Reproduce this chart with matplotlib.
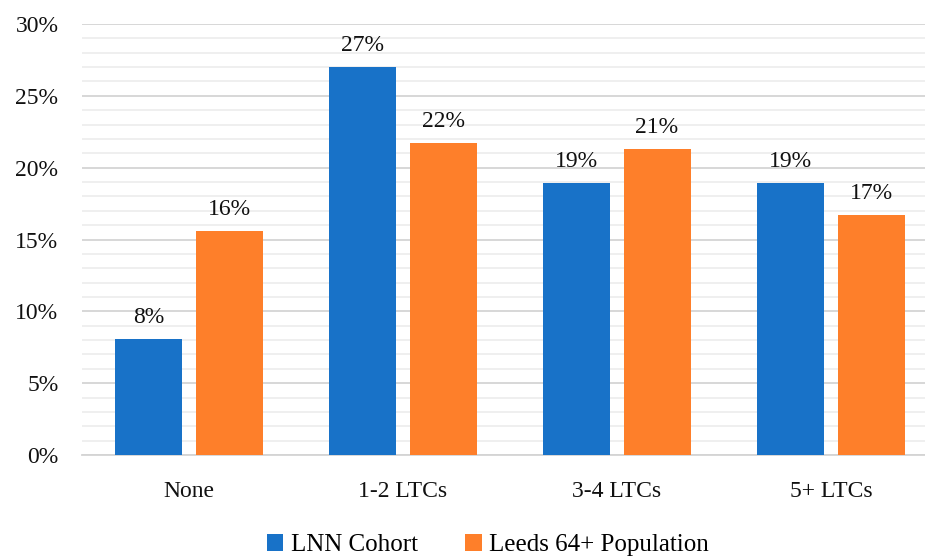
import numpy as np
import matplotlib.pyplot as plt
from matplotlib.ticker import MultipleLocator, FuncFormatter

plt.rcParams['font.family'] = ['Liberation Serif', 'DejaVu Serif']

categories = ['None', '1-2 LTCs', '3-4 LTCs', '5+ LTCs']
lnn_cohort = [8.1, 27.0, 18.9, 18.9]
leeds_64 = [15.6, 21.7, 21.3, 16.7]
series_names = ['LNN Cohort', 'Leeds 64+ Population']

blue = '#1872C8'
orange = '#FE7F2A'

fig = plt.figure(figsize=(9.25, 5.57), dpi=100)
ax = fig.add_axes([82 / 925, 102 / 557, 856 / 925, 431 / 557])

x = np.arange(len(categories))
w = 0.313
off = 0.187
b1 = ax.bar(x - off, lnn_cohort, w, color=blue, label=series_names[0], zorder=3)
b2 = ax.bar(x + off, leeds_64, w, color=orange, label=series_names[1], zorder=3)

for bars, vals in ((b1, lnn_cohort), (b2, leeds_64)):
    for rect, v in zip(bars, vals):
        ax.annotate(f'{round(v)}%', (rect.get_x() + rect.get_width() / 2, v),
                    xytext=(0, 8), textcoords='offset points',
                    ha='center', va='bottom', fontsize=17, color='#111111')

ax.set_xlim(-0.5, 3.5)
ax.set_ylim(0, 30)
ax.yaxis.set_major_locator(MultipleLocator(5))
ax.yaxis.set_minor_locator(MultipleLocator(1))
ax.yaxis.set_major_formatter(FuncFormatter(lambda v, p: f'{v:.0f}%'))
ax.grid(axis='y', which='major', color='#D4D4D4', linewidth=1.3, zorder=0)
ax.grid(axis='y', which='minor', color='#EEEEEE', linewidth=1.3, zorder=0)
ax.set_axisbelow(True)

for s in ('top', 'right', 'left'):
    ax.spines[s].set_visible(False)
ax.spines['bottom'].set_color('#D4D4D4')
ax.spines['bottom'].set_linewidth(1.3)

ax.set_xticks(x)
ax.set_xticklabels(categories)
ax.tick_params(axis='both', which='both', length=0, labelsize=17, colors='#111111')
ax.tick_params(axis='x', pad=19)
ax.tick_params(axis='y', pad=17)

fig.legend(handles=[b1, b2], loc='center', bbox_to_anchor=(488 / 925, 1 - 545 / 557),
           ncol=2, frameon=False, fontsize=18, handlelength=0.65, handleheight=0.65,
           handletextpad=0.3, columnspacing=1.9)

fig.savefig('out.png', dpi=100)
